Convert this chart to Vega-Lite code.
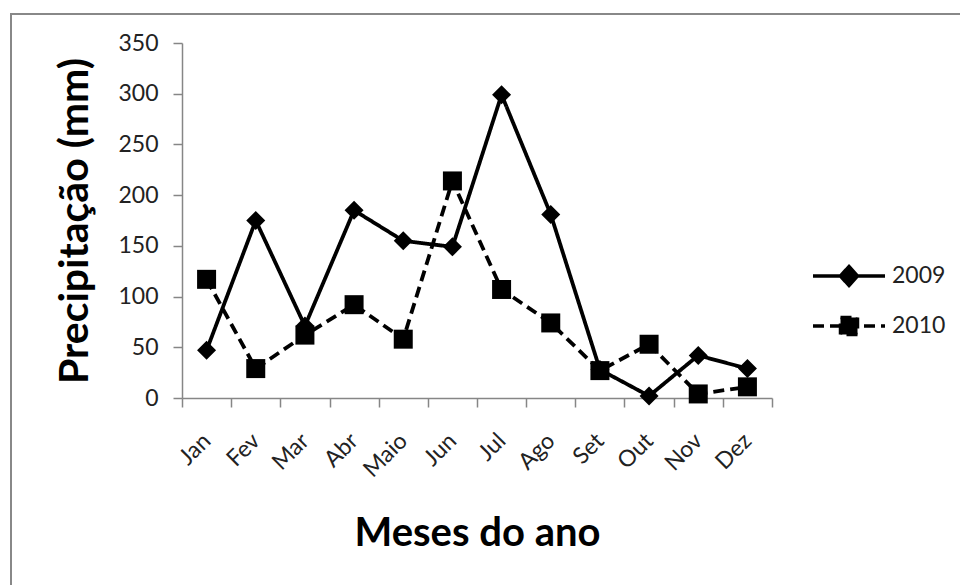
{
  "$schema": "https://vega.github.io/schema/vega-lite/v6.json",
  "width": 952,
  "height": 575,
  "autosize": {"type": "none"},
  "padding": {"left": 11, "top": 14, "right": 0, "bottom": 0},
  "background": "white",
  "config": {
    "font": "Lato",
    "view": {"stroke": "#888888", "strokeWidth": 2, "fill": "white"}
  },
  "data": {
    "values": [
      {"mes": "Jan", "ano": "2009", "valor": 47},
      {"mes": "Fev", "ano": "2009", "valor": 175},
      {"mes": "Mar", "ano": "2009", "valor": 71},
      {"mes": "Abr", "ano": "2009", "valor": 185},
      {"mes": "Maio", "ano": "2009", "valor": 155},
      {"mes": "Jun", "ano": "2009", "valor": 149},
      {"mes": "Jul", "ano": "2009", "valor": 299},
      {"mes": "Ago", "ano": "2009", "valor": 181},
      {"mes": "Set", "ano": "2009", "valor": 28},
      {"mes": "Out", "ano": "2009", "valor": 2},
      {"mes": "Nov", "ano": "2009", "valor": 42},
      {"mes": "Dez", "ano": "2009", "valor": 29},
      {"mes": "Jan", "ano": "2010", "valor": 117},
      {"mes": "Fev", "ano": "2010", "valor": 29},
      {"mes": "Mar", "ano": "2010", "valor": 62},
      {"mes": "Abr", "ano": "2010", "valor": 92},
      {"mes": "Maio", "ano": "2010", "valor": 58},
      {"mes": "Jun", "ano": "2010", "valor": 214},
      {"mes": "Jul", "ano": "2010", "valor": 107},
      {"mes": "Ago", "ano": "2010", "valor": 74},
      {"mes": "Set", "ano": "2010", "valor": 27},
      {"mes": "Out", "ano": "2010", "valor": 53},
      {"mes": "Nov", "ano": "2010", "valor": 4},
      {"mes": "Dez", "ano": "2010", "valor": 11}
    ]
  },
  "encoding": {
    "x": {
      "field": "mes",
      "type": "nominal",
      "sort": ["Jan", "Fev", "Mar", "Abr", "Maio", "Jun", "Jul", "Ago", "Set", "Out", "Nov", "Dez"],
      "scale": {"type": "band", "range": [171, 761], "paddingInner": 0, "paddingOuter": 0},
      "axis": {
        "offset": -191,
        "title": "Meses do ano",
        "titleFont": "Lato",
        "titleFontSize": 40,
        "titleFontWeight": "bold",
        "titleColor": "#000000",
        "titlePadding": 32,
        "labelAngle": -45,
        "labelAlign": "right",
        "labelBaseline": "middle",
        "labelFontSize": 23,
        "labelColor": "#222222",
        "labelPadding": 30,
        "tickBand": "extent",
        "tickSize": 9,
        "tickColor": "#868686",
        "domainColor": "#868686",
        "tickWidth": 1.5,
        "domainWidth": 1.5,
        "grid": false
      }
    },
    "y": {
      "field": "valor",
      "type": "quantitative",
      "scale": {"domain": [0, 350], "range": [384, 29], "nice": false, "zero": true},
      "axis": {
        "offset": -171,
        "values": [0, 50, 100, 150, 200, 250, 300, 350],
        "title": "Precipitação (mm)",
        "titleFont": "Lato",
        "titleFontSize": 41,
        "titleFontWeight": "bold",
        "titleColor": "#000000",
        "titlePadding": 21,
        "labelFontSize": 23,
        "labelColor": "#222222",
        "labelPadding": 15,
        "tickSize": 9,
        "tickColor": "#868686",
        "domainColor": "#868686",
        "tickWidth": 1.5,
        "domainWidth": 1.5,
        "grid": false
      }
    }
  },
  "layer": [
    {
      "mark": {"type": "line", "color": "black", "strokeWidth": 3.8},
      "encoding": {
        "strokeDash": {
          "field": "ano",
          "type": "nominal",
          "scale": {"domain": ["2009", "2010"], "range": [[1, 0], [11, 6]]},
          "legend": {
            "title": null,
            "orient": "none",
            "legendX": 826,
            "legendY": 250,
            "padding": 0,
            "rowPadding": 17,
            "symbolSize": 400,
            "symbolStrokeWidth": 3.5,
            "symbolFillColor": "black",
            "symbolStrokeColor": "black",
            "symbolOpacity": 1,
            "symbolType": {"expr": "datum.value === '2009' ? 'M-3.6,0H3.6M-0.85,0L0,-0.95L0.85,0L0,0.95Z' : 'M-3.6,0H3.6M-0.85,-0.85H0.85V0.85H-0.85Z'"},
            "labelOffset": 31,
            "labelFontSize": 23,
            "labelColor": "#222222",
            "labelFont": "Lato"
          }
        }
      }
    },
    {
      "transform": [{"filter": "datum.ano === '2009'"}],
      "mark": {"type": "point", "filled": true, "color": "black", "size": 361, "opacity": 1, "shape": "diamond"}
    },
    {
      "transform": [{"filter": "datum.ano === '2010'"}],
      "mark": {"type": "point", "filled": true, "color": "black", "size": 361, "opacity": 1, "shape": "square"}
    }
  ]
}
